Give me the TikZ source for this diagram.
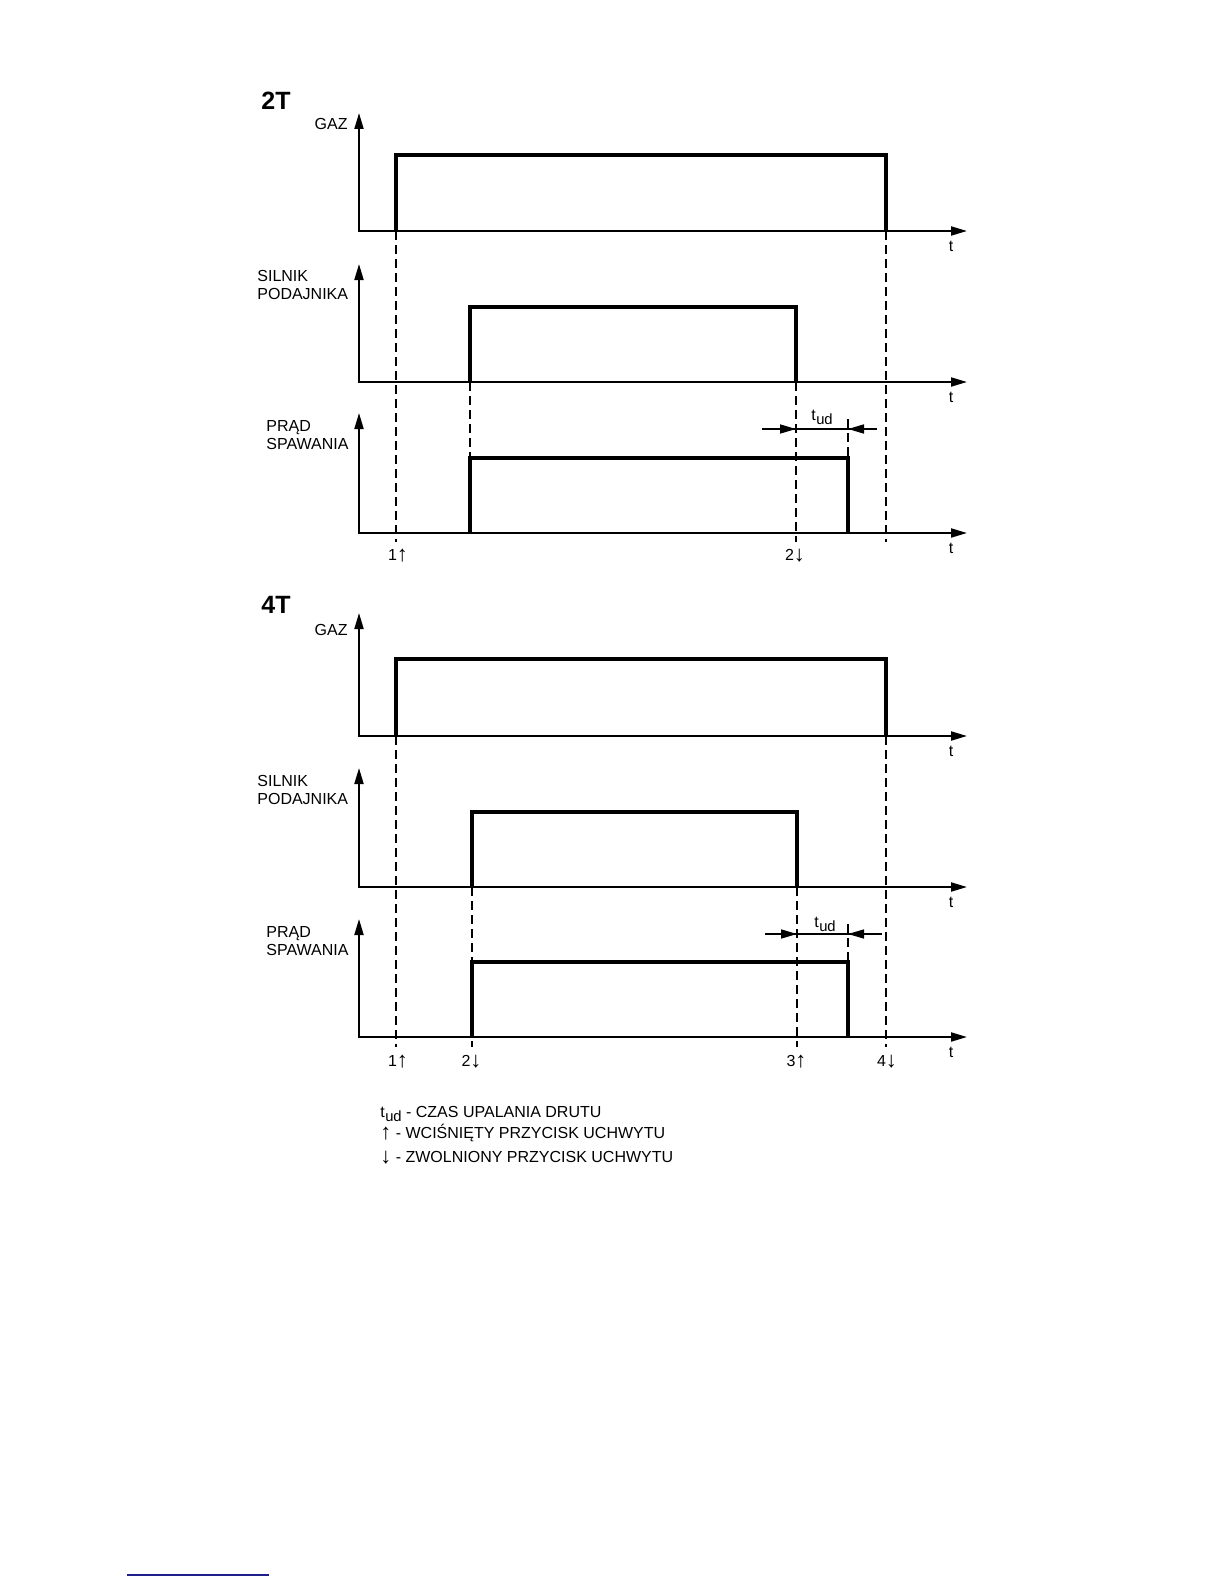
\documentclass[tikz,border=0pt]{standalone}
\usepackage{fontspec}
\setmainfont{Liberation Sans}
\usetikzlibrary{arrows.meta}
\newcommand{\tudtxt}{t\kern0.2pt\raisebox{-2pt}{\fontsize{7.4pt}{8pt}\selectfont ud}}
\newcommand{\upa}{{\fontsize{11pt}{12pt}\selectfont\bfseries\raisebox{-0.6pt}{↑}}}
\newcommand{\dna}{{\fontsize{11pt}{12pt}\selectfont\bfseries\raisebox{-0.6pt}{↓}}}
\newcommand{\mypanel}[6]{%
  \coordinate (#1-y) at (359,#2);
  \coordinate (#1-x) at (967,#3);
  \coordinate (#1-r0) at (#5,#3);
  \coordinate (#1-r1) at (#5,#4);
  \coordinate (#1-f1) at (#6,#4);
  \coordinate (#1-f0) at (#6,#3);
  \draw[axis] (#1-y) |- (#1-x);
  \draw[pulse] (#1-r0) -- (#1-r1) -- (#1-f1) -- (#1-f0);
  \node[tlab] (#1-t) at (951,#3+20.5) {t};
}
\begin{document}
\begin{tikzpicture}[x=0.5pt,y=-0.5pt,
  axis/.style={line width=1pt,{Triangle[length=8pt,width=4.5pt]}-{Triangle[length=8pt,width=4.5pt]}},
  pulse/.style={line width=2pt,line join=miter},
  guide/.style={line width=0.9pt,dash pattern=on 4.6pt off 2.4pt},
  dimline/.style={line width=0.8pt},
  dimarrow/.style={line width=0.8pt,-{Triangle[length=8pt,width=4.5pt]}},
  lbl/.style={inner sep=0pt,anchor=base west,font=\fontsize{8pt}{9pt}\selectfont},
  lble/.style={inner sep=0pt,anchor=base east,font=\fontsize{8pt}{9pt}\selectfont},
  tlab/.style={inner sep=0pt,anchor=base,font=\fontsize{8pt}{9pt}\selectfont},
  title/.style={inner sep=0pt,anchor=base west,font=\fontsize{12.5pt}{14pt}\selectfont\bfseries},
]
\path[fill=white,use as bounding box] (0,0) rectangle (1224,1584);

% ===================== 2T =====================
\node[title] (t2T) at (261,110) {2T};
\mypanel{a}{113}{231}{155}{396}{886}
\mypanel{b}{264}{382}{307}{470}{796}
\mypanel{c}{413}{533}{458}{470}{848}
\node[lble] (a-lab) at (348,130) {GAZ};
\node[lbl] (b-lab1) at (257,281) {SILNIK};
\node[lbl] (b-lab2) at (257,299) {PODAJNIKA};
\node[lbl] (c-lab1) at (266,431) {PRĄD};
\node[lbl] (c-lab2) at (266,449) {SPAWANIA};
% guides
\coordinate (ga1) at (396,542);
\coordinate (ga2) at (470,458);
\coordinate (ga3) at (796,542);
\coordinate (ga4) at (886,542);
\coordinate (ga5a) at (848,419);
\draw[guide] (a-r0) -- (ga1);
\draw[guide] (b-r0) -- (ga2);
\draw[guide] (b-f0) -- (ga3);
\draw[guide] (a-f0) -- (ga4);
\draw[guide] (ga5a) -- (c-f1);
% t_ud
\coordinate (da0) at (762,429);
\coordinate (da1) at (796,429);
\coordinate (da2) at (848,429);
\coordinate (da3) at (877,429);
\draw[dimline] (da0) -- (da3);
\draw[dimarrow] (da0) -- (da1);
\draw[dimarrow] (da3) -- (da2);
\node[lbl] (a-tud) at (811,420) {\tudtxt};
\node[tlab] (a-n1) at (398,560) {1\upa};
\node[tlab] (a-n2) at (795,560) {2\dna};

% ===================== 4T =====================
\node[title] (t4T) at (261,613) {4T};
\mypanel{d}{613}{736}{659}{396}{886}
\mypanel{e}{768}{887}{812}{472}{797}
\mypanel{f}{919}{1037}{962}{472}{848}
\node[lble] (d-lab) at (348,635) {GAZ};
\node[lbl] (e-lab1) at (257,786) {SILNIK};
\node[lbl] (e-lab2) at (257,804) {PODAJNIKA};
\node[lbl] (f-lab1) at (266,937) {PRĄD};
\node[lbl] (f-lab2) at (266,955) {SPAWANIA};
\coordinate (gd1) at (396,1047);
\coordinate (gd2) at (472,1047);
\coordinate (gd3) at (797,1047);
\coordinate (gd4) at (886,1047);
\coordinate (gd5a) at (848,924);
\draw[guide] (d-r0) -- (gd1);
\draw[guide] (e-r0) -- (gd2);
\draw[guide] (e-f0) -- (gd3);
\draw[guide] (d-f0) -- (gd4);
\draw[guide] (gd5a) -- (f-f1);
\coordinate (dd0) at (765,934);
\coordinate (dd1) at (797,934);
\coordinate (dd2) at (848,934);
\coordinate (dd3) at (882,934);
\draw[dimline] (dd0) -- (dd3);
\draw[dimarrow] (dd0) -- (dd1);
\draw[dimarrow] (dd3) -- (dd2);
\node[lbl] (d-tud) at (814,927) {\tudtxt};
\node[tlab] (d-n1) at (398,1066) {1\upa};
\node[tlab] (d-n2) at (471.5,1066) {2\dna};
\node[tlab] (d-n3) at (796.5,1066) {3\upa};
\node[tlab] (d-n4) at (887,1066) {4\dna};

% ===================== legend =====================
\node[lbl] (leg1) at (380,1117) {\tudtxt\ - CZAS UPALANIA DRUTU};
\node[lbl] (leg2) at (380,1138.5) {\upa\ - WCIŚNIĘTY PRZYCISK UCHWYTU};
\node[lbl] (leg3) at (380,1162) {\dna\ - ZWOLNIONY PRZYCISK UCHWYTU};

% footnote rule
\coordinate (fr0) at (127,1575);
\coordinate (fr1) at (269,1575);
\draw[draw={rgb,255:red,30;green,30;blue,140},line width=0.9pt] (fr0) -- (fr1);
\end{tikzpicture}
\end{document}
